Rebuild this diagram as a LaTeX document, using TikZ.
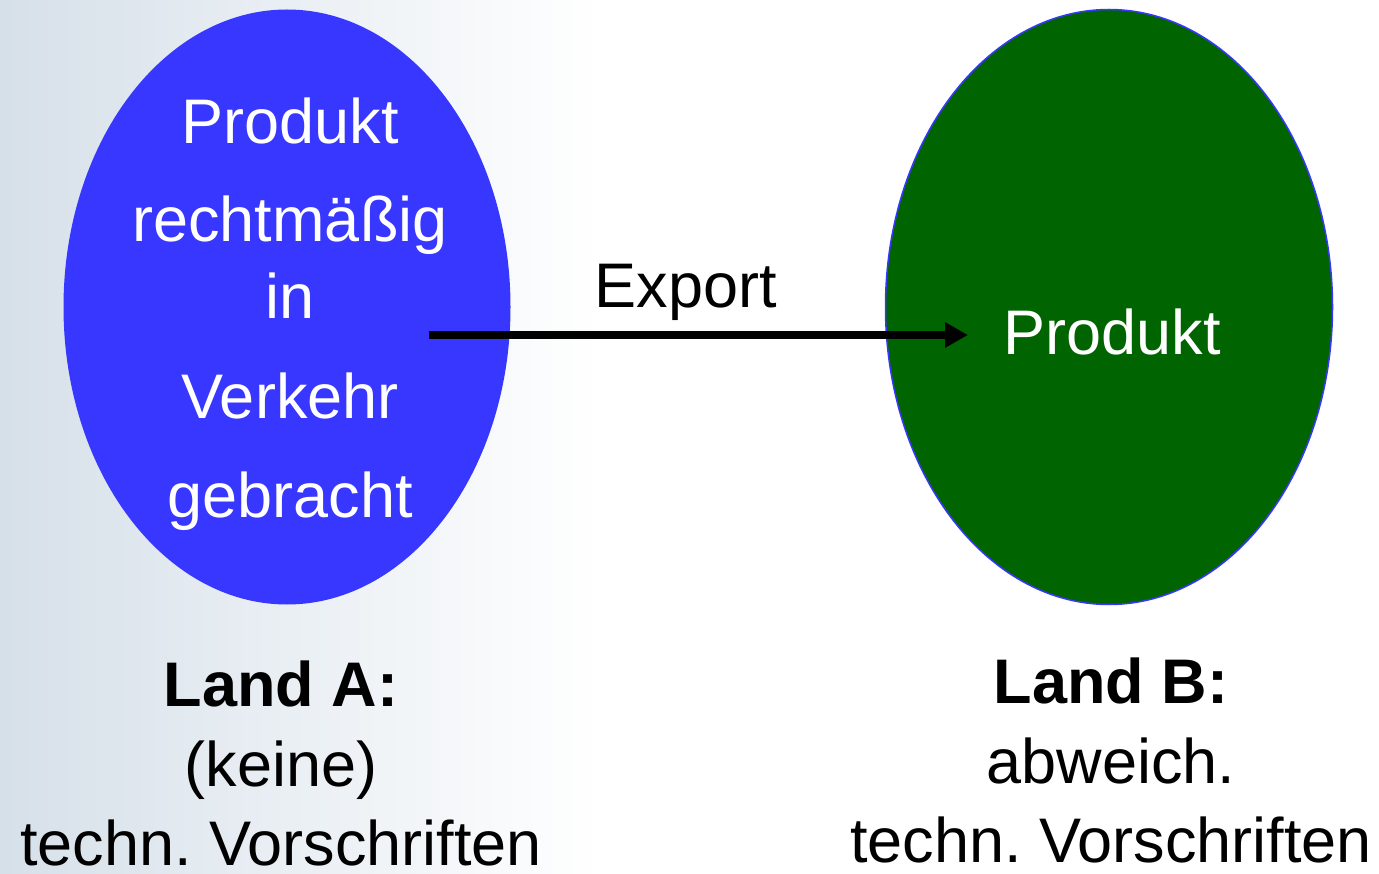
\documentclass[tikz,border=0pt]{standalone}
\usepackage{fontspec}
\setmainfont{Liberation Sans}
\usetikzlibrary{shapes.geometric,arrows.meta}
\definecolor{blueA}{RGB}{55,55,255}
\definecolor{greenB}{RGB}{0,100,0}
\definecolor{bgtex}{RGB}{214,224,233}
\tikzset{
  lbl/.style={anchor=base,inner sep=0pt,font=\fontsize{63}{70}\selectfont},
  wlbl/.style={lbl,text=white},
  blbl/.style={lbl,font=\fontsize{63}{70}\selectfont\bfseries},
  country/.style={ellipse,inner sep=0pt,minimum width=447pt,minimum height=595pt},
  export/.style={line width=7.5pt,-{Triangle[length=23pt,width=24pt]}}
}
\frenchspacing
\begin{document}
\begin{tikzpicture}[x=1pt,y=-1pt]
\useasboundingbox (0,0) rectangle (1379,874);
\fill[left color=bgtex,right color=white] (0,0) rectangle (600,874);
\node[country,fill=blueA] (A) at (287,307) {};
\node[country,fill=greenB,draw=blueA,line width=1.5pt] (B) at (1109,307) {};
\node[wlbl] (a1) at (290,144) {Produkt};
\node[wlbl] (a2) at (290,242) {rechtmäßig};
\node[wlbl] (a3) at (290,319) {in};
\node[wlbl] (a4) at (290,418) {Verkehr};
\node[wlbl] (a5) at (290,517) {gebracht};
\node[wlbl] (b1) at (1112,355) {Produkt};
\coordinate (s) at (429,335);
\coordinate (e) at (968,335);
\draw[export] (s) -- (e);
\node[lbl] (ex) at (686,308) {Export};
\node[blbl] (la) at (281,706) {Land A:};
\node[lbl] (la2) at (281,786) {(keine)};
\node[lbl] (la3) at (281,865) {techn. Vorschriften};
\node[blbl] (lb) at (1111,703) {Land B:};
\node[lbl] (lb2) at (1111,783) {abweich.};
\node[lbl] (lb3) at (1111,862) {techn. Vorschriften};
\end{tikzpicture}
\end{document}
